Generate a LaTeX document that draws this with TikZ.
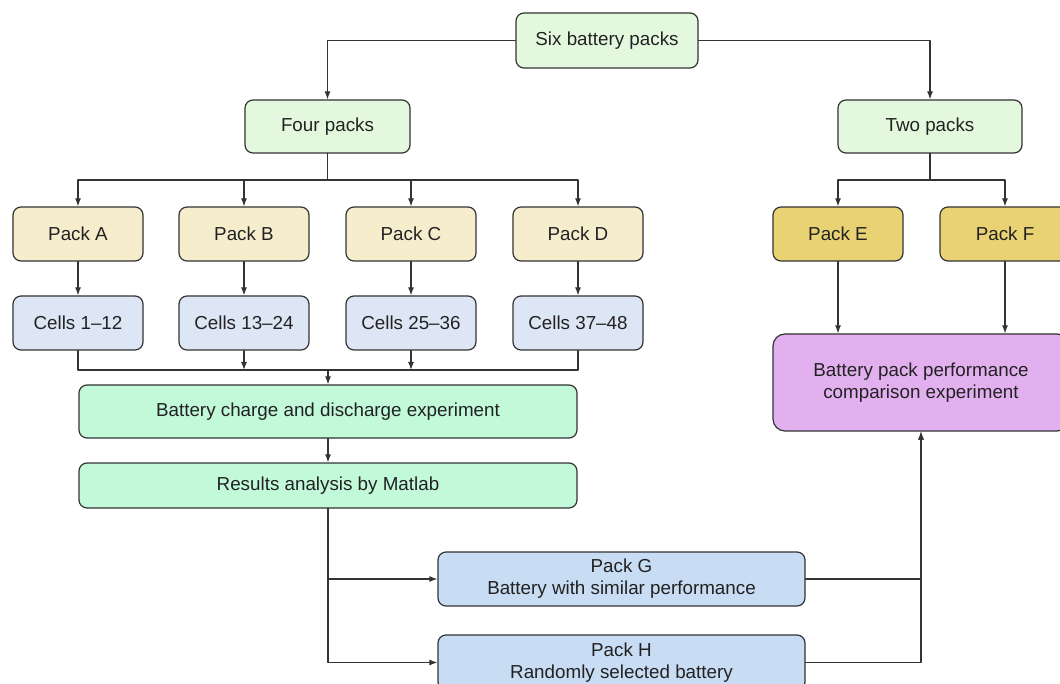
\documentclass[tikz,border=0pt]{standalone}
\usepackage{fontspec}
\setmainfont{Liberation Sans}
\usetikzlibrary{arrows.meta,calc,positioning}
\definecolor{packInk}{HTML}{222222}
\definecolor{packLine}{HTML}{333333}
\definecolor{packTop}{HTML}{E3F8DD}
\definecolor{packSand}{HTML}{F6EDCC}
\definecolor{packCell}{HTML}{DDE6F5}
\definecolor{packGold}{HTML}{E9D274}
\definecolor{packViolet}{HTML}{E2B0EE}
\definecolor{packMint}{HTML}{C2F9D9}
\definecolor{packSteel}{HTML}{C8DCF3}
\begin{document}
\begin{tikzpicture}[x=1pt,y=-1pt,>={Latex[length=8pt,width=6pt]},line cap=round,line join=round]
\path[use as bounding box,fill=white] (0,0) rectangle (1060,684);
\clip (0,0) rectangle (1060,684);
\tikzset{box/.style={draw=packLine,line width=1.2pt,rounded corners=8pt,text=packInk,font=\fontsize{18.8}{22}\selectfont,align=center,inner sep=0pt},link/.style={draw=packLine,line width=1.2pt}}
\node[box,fill=packTop,minimum width=182pt,minimum height=55pt] (six) at (607,40.5) {Six battery packs};
\node[box,fill=packTop,minimum width=165pt,minimum height=53pt] (four) at (327.5,126.5) {Four packs};
\node[box,fill=packTop,minimum width=184pt,minimum height=53pt] (two) at (930,126.5) {Two packs};
\node[box,fill=packSand,minimum width=130pt,minimum height=54pt] (packA) at (78,234) {Pack A};
\node[box,fill=packSand,minimum width=130pt,minimum height=54pt] (packB) at (244,234) {Pack B};
\node[box,fill=packSand,minimum width=130pt,minimum height=54pt] (packC) at (411,234) {Pack C};
\node[box,fill=packSand,minimum width=130pt,minimum height=54pt] (packD) at (578,234) {Pack D};
\node[box,fill=packGold,minimum width=130pt,minimum height=54pt] (packE) at (838,234) {Pack E};
\node[box,fill=packGold,minimum width=130pt,minimum height=54pt] (packF) at (1005,234) {Pack F};
\node[box,fill=packCell,minimum width=130pt,minimum height=54pt] (cellsA) at (78,323) {Cells 1--12};
\node[box,fill=packCell,minimum width=130pt,minimum height=54pt] (cellsB) at (244,323) {Cells 13--24};
\node[box,fill=packCell,minimum width=130pt,minimum height=54pt] (cellsC) at (411,323) {Cells 25--36};
\node[box,fill=packCell,minimum width=130pt,minimum height=54pt] (cellsD) at (578,323) {Cells 37--48};
\node[box,fill=packViolet,minimum width=296pt,minimum height=97pt,rounded corners=12pt] (perf) at (921,382.5) {Battery pack performance\\comparison experiment};
\node[box,fill=packMint,minimum width=498pt,minimum height=53pt] (charge) at (328,411.5) {Battery charge and discharge experiment};
\node[box,fill=packMint,minimum width=498pt,minimum height=45pt] (results) at (328,485.5) {Results analysis by Matlab};
\node[box,fill=packSteel,minimum width=367pt,minimum height=54pt] (packG) at (621.5,579) {Pack G\\Battery with similar performance};
\node[box,fill=packSteel,minimum width=367pt,minimum height=55pt] (packH) at (621.5,662.5) {Pack H\\Randomly selected battery};
\coordinate (merge) at (328,370);
\draw[link,->] (six.west) -| (four.north);
\draw[link,->] (six.east) -| (two.north);
\draw[link,->] (four.south) -- ++(0,26.5) -| (packA.north);
\draw[link,->] (four.south) -- ++(0,26.5) -| (packB.north);
\draw[link,->] (four.south) -- ++(0,26.5) -| (packC.north);
\draw[link,->] (four.south) -- ++(0,26.5) -| (packD.north);
\draw[link,->] (two.south) -- ++(0,26.5) -| (packE.north);
\draw[link,->] (two.south) -- ++(0,26.5) -| (packF.north);
\draw[link,->] (packA) -- (cellsA);
\draw[link,->] (packB) -- (cellsB);
\draw[link,->] (packC) -- (cellsC);
\draw[link,->] (packD) -- (cellsD);
\draw[link] (cellsA.south) |- (merge);
\draw[link] (cellsD.south) |- (merge);
\draw[link,->] (cellsB.south) -- (cellsB.south |- merge);
\draw[link,->] (cellsC.south) -- (cellsC.south |- merge);
\draw[link,->] (merge) -- (charge.north);
\draw[link,->] (charge) -- (results);
\draw[link,->] (results.south) |- (packG.west);
\draw[link,->] (results.south) |- (packH.west);
\draw[link,->] (packE) -- (packE |- perf.north);
\draw[link,->] (packF) -- (packF |- perf.north);
\draw[link,->] (packG.east) -| (perf.south);
\draw[link,->] (packH.east) -| (perf.south);
\end{tikzpicture}
\end{document}
